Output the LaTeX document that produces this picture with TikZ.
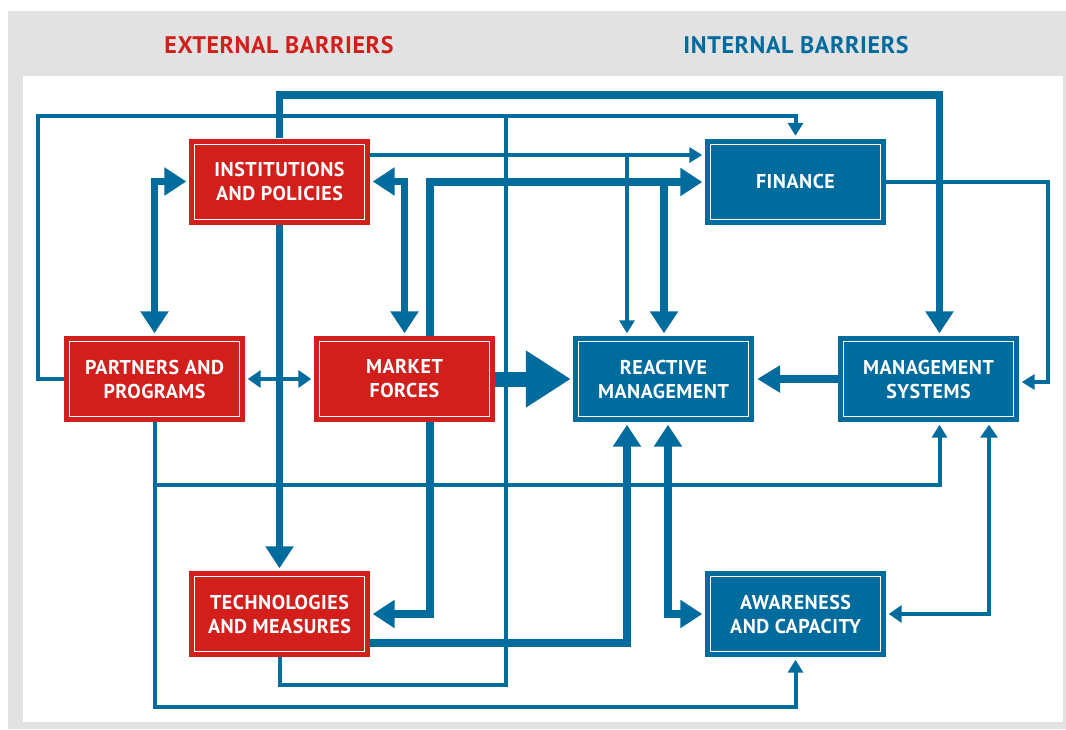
\documentclass[tikz,border=0pt]{standalone}
\usepackage{fontspec}
\setmainfont{PT Sans}[LetterSpace=2.5]
\usetikzlibrary{arrows.meta,calc}
\pgfdeclarelayer{panel}
\pgfdeclarelayer{wires}
\pgfsetlayers{panel,wires,main}

\definecolor{barred}{RGB}{211,31,28}
\definecolor{barblue}{RGB}{0,108,158}
\definecolor{panelgrey}{RGB}{226,226,226}

\tikzset{
  heading/.style={font=\bfseries\fontsize{24}{24}\selectfont, inner sep=0pt},
  barrier/.style={minimum width=181pt, minimum height=86pt, inner sep=0pt,
    align=center, text=white, font=\bfseries\fontsize{20}{24}\selectfont,
    path picture={\draw[white, line width=1pt]
      ([shift={(5.5,5.5)}]path picture bounding box.north west) rectangle
      ([shift={(-5.5,-5.5)}]path picture bounding box.south east);}},
  extbox/.style={barrier, fill=barred},
  intbox/.style={barrier, fill=barblue},
  thinwire/.style={draw=barblue, line width=4pt},
  thickwire/.style={draw=barblue, line width=7.5pt},
  smalltip/.style={-{Triangle[width=15pt,length=13pt]}, shorten >=2.5pt},
  smalltips/.style={{Triangle[width=17pt,length=13pt]}-{Triangle[width=17pt,length=13pt]},
    shorten >=2.5pt, shorten <=2.5pt},
  bigtip/.style={-{Triangle[width=27pt,length=22pt]}, shorten >=2.5pt},
  bigtips/.style={{Triangle[width=27pt,length=22pt]}-{Triangle[width=27pt,length=22pt]},
    shorten >=2.5pt, shorten <=2.5pt},
}

\begin{document}
\begin{tikzpicture}[x=1pt, y=-1pt]
\useasboundingbox (0,0) rectangle (1066,729);

% panel: grey frame with white drawing area
\begin{pgfonlayer}{panel}
  \fill[panelgrey] (8,11) rectangle (1066,729);
  \fill[white] (23,76) rectangle (1063,722);
\end{pgfonlayer}

% column headings
\node[heading, text=barred] (exthead) at (279,45) {EXTERNAL BARRIERS};
\node[heading, text=barblue] (inthead) at (796,45) {INTERNAL BARRIERS};

% external barriers
\node[extbox] (inst) at (279.5,181.5) {INSTITUTIONS\\AND POLICIES};
\node[extbox] (part) at (154.5,379) {PARTNERS AND\\PROGRAMS};
\node[extbox] (mkt)  at (404.5,379) {MARKET\\FORCES};
\node[extbox] (tech) at (279.5,614) {TECHNOLOGIES\\AND MEASURES};

% internal barriers
\node[intbox] (fin) at (795.5,181.5) {FINANCE};
\node[intbox] (rm)  at (663.5,379) {REACTIVE\\MANAGEMENT};
\node[intbox] (ms)  at (928.5,379) {MANAGEMENT\\SYSTEMS};
\node[intbox] (aw)  at (795.5,614) {AWARENESS\\AND CAPACITY};

% routing points
\coordinate (topY) at (0,95);
\coordinate (loopL) at (38,116);
\coordinate (loopR) at (506,116);
\coordinate (loopB) at (506,685);
\coordinate (instY) at (0,155);
\coordinate (instB) at (627,155);
\coordinate (mktL) at (430,182);
\coordinate (mktB) at (664,182);
\coordinate (finR) at (1048,382);
\coordinate (partM) at (939.5,485);
\coordinate (partA) at (795.5,707);
\coordinate (techR) at (627,643);
\coordinate (rmA) at (668,614);
\coordinate (msA) at (989,614);

\begin{pgfonlayer}{wires}
  % institutions and policies
  \draw[thickwire, bigtip] (inst.north) -- (inst.north |- topY) -| ($(ms.north)+(11,0)$);
  \draw[thickwire, bigtip] (inst.south) -- (tech.north);
  \draw[thickwire, bigtips] (inst.west) -| (part.north);
  \draw[thickwire, bigtips] (inst.east) -| (mkt.north);
  \draw[thinwire, smalltip] (inst.east |- instY) -- (fin.west |- instY);
  \draw[thinwire, smalltip] (instB) -- (instB |- rm.north);

  % partners and programs
  \draw[thinwire, smalltip] (part.west) -| (loopL) -| (fin.north);
  \draw[thinwire, smalltips] (part.east) -- (mkt.west);
  \draw[thinwire, smalltip] (part.south) |- (partM) -- (partM |- ms.south);
  \draw[thinwire, smalltip] (part.south) |- (partA) -- (aw.south);

  % technologies and measures
  \draw[thinwire] (tech.south) |- (loopB) -- (loopR);
  \draw[thickwire, bigtip] (tech.east |- techR) -- (techR) -- (techR |- rm.south);

  % market forces
  \draw[thickwire, bigtip] (mkt.north -| mktL) -- (mktL) -- (mktL -| fin.west);
  \draw[thickwire, bigtip] (mktB) -- (mktB |- rm.north);
  \draw[thickwire, bigtip] (mkt.south -| mktL) |- (tech.east);
  \draw[draw=barblue, line width=15pt, -{Triangle[width=54pt,length=45pt]}, shorten >=2pt]
    (mkt.east) -- (rm.west);

  % internal links
  \draw[draw=barblue, line width=8pt, -{Triangle[width=26pt,length=23pt]}, shorten >=3pt]
    (ms.west) -- (rm.east);
  \draw[thinwire, smalltip] (fin.east) -| (finR) -- (finR -| ms.east);
  \draw[thickwire, bigtips] (rmA |- rm.south) -- (rmA) -- (aw.west);
  \draw[thinwire, smalltips] (msA |- ms.south) -- (msA) -- (aw.east);
\end{pgfonlayer}
\end{tikzpicture}
\end{document}
